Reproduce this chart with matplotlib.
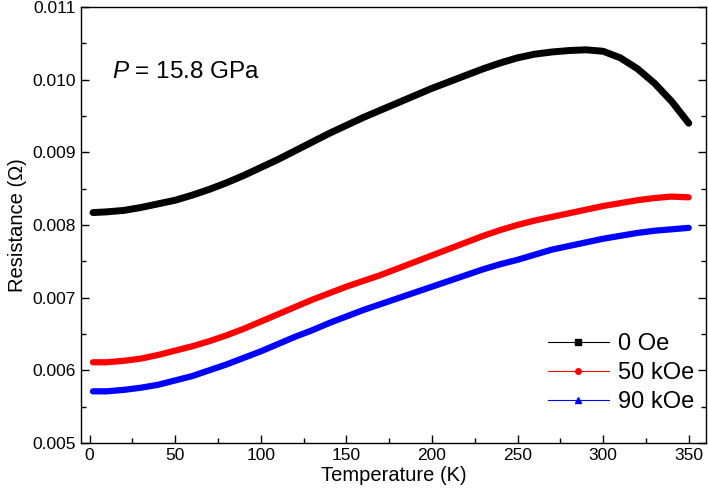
import matplotlib
matplotlib.use("Agg")
import matplotlib.pyplot as plt
from matplotlib.lines import Line2D
from matplotlib.ticker import MultipleLocator

plt.rcParams["font.family"] = ["Liberation Sans", "DejaVu Sans"]
plt.rcParams["mathtext.fontset"] = "custom"
plt.rcParams["mathtext.it"] = "Liberation Sans:italic"
plt.rcParams["mathtext.rm"] = "Liberation Sans"

# temperature grid (K)
temps = [2, 10, 20, 30, 40, 50, 60, 70, 80, 90, 100, 110, 120, 130, 140, 150, 160, 170,
         180, 190, 200, 210, 220, 230, 240, 250, 260, 270, 280, 290, 300, 310, 320, 330,
         340, 350]

r_0oe = [0.00817, 0.00818, 0.00820, 0.00824, 0.00829, 0.00834, 0.00841, 0.00849,
         0.00858, 0.00868, 0.00879, 0.00890, 0.00902, 0.00914, 0.00926, 0.00937,
         0.00948, 0.00958, 0.00968, 0.00978, 0.00988, 0.00997, 0.01006, 0.01015,
         0.01023, 0.01030, 0.01035, 0.01038, 0.01040, 0.01041, 0.01039, 0.01030,
         0.01015, 0.00995, 0.00970, 0.00940]

r_50koe = [0.00611, 0.00611, 0.00613, 0.00616, 0.00621, 0.00627, 0.00633, 0.00640,
           0.00648, 0.00657, 0.00667, 0.00677, 0.00687, 0.00697, 0.00706, 0.00715,
           0.00723, 0.00731, 0.00740, 0.00749, 0.00758, 0.00767, 0.00776, 0.00785,
           0.00793, 0.00800, 0.00806, 0.00811, 0.00816, 0.00821, 0.00826, 0.00830,
           0.00834, 0.00837, 0.00839, 0.00838]

r_90koe = [0.00571, 0.00571, 0.00573, 0.00576, 0.00580, 0.00586, 0.00592, 0.00600,
           0.00608, 0.00617, 0.00626, 0.00636, 0.00646, 0.00655, 0.00665, 0.00674,
           0.00683, 0.00691, 0.00699, 0.00707, 0.00715, 0.00723, 0.00731, 0.00739,
           0.00746, 0.00752, 0.00759, 0.00766, 0.00771, 0.00776, 0.00781, 0.00785,
           0.00789, 0.00792, 0.00794, 0.00796]

labels = ["0 Oe", "50 kOe", "90 kOe"]
colors = ["black", "red", "blue"]
markers = ["s", "o", "^"]

fig = plt.figure(figsize=(7.08, 4.96), dpi=100)
ax = fig.add_axes([0.1144, 0.107, 0.8826, 0.879])

for r, c, w in zip([r_0oe, r_50koe, r_90koe], colors, [5, 4.5, 4.5]):
    ax.plot(temps, r, color=c, lw=w, solid_capstyle="round", solid_joinstyle="round")

ax.set_xlim(-5, 360)
ax.set_ylim(0.005, 0.011)
ax.xaxis.set_major_locator(MultipleLocator(50))
ax.xaxis.set_minor_locator(MultipleLocator(25))
ax.yaxis.set_major_locator(MultipleLocator(0.001))
ax.yaxis.set_minor_locator(MultipleLocator(0.0005))
ax.yaxis.set_major_formatter(matplotlib.ticker.FormatStrFormatter("%.3f"))
ax.tick_params(which="both", direction="in", top=False, right=True, labelsize=12.5,
               width=1.0)
ax.tick_params(which="major", length=6)
ax.tick_params(which="minor", length=3.5)
for s in ax.spines.values():
    s.set_linewidth(1.0)

ax.set_xlabel("Temperature (K)", fontsize=14.5, labelpad=2)
ax.set_ylabel("Resistance (\u03a9)", fontsize=14.5, labelpad=4)

ax.text(0.05, 0.851, "$P$ = 15.8 GPa", transform=ax.transAxes, fontsize=17.5,
        ha="left", va="center")

handles = [Line2D([], [], color=c, marker=m, lw=0.8, markersize=4)
           for c, m in zip(colors, markers)]
ax.legend(handles, labels, loc="lower right", bbox_to_anchor=(1.016, 0.02),
          frameon=False, fontsize=17, handlelength=2.6, handletextpad=0.4,
          labelspacing=0.3)

fig.savefig("out.png", dpi=100)
